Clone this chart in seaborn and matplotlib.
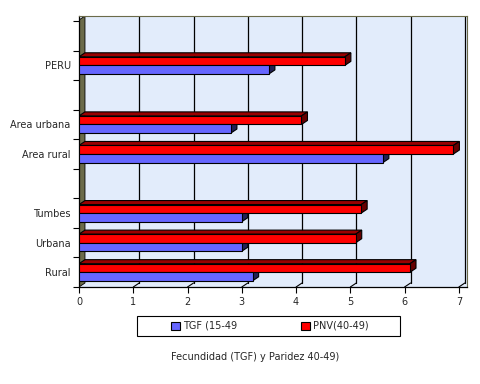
import numpy as np
import pandas as pd
import matplotlib
matplotlib.use("Agg")
import matplotlib.pyplot as plt
import seaborn as sns
from matplotlib.patches import Polygon, Patch, Rectangle

# ---- data ----
categories = ["", "PERU", " ", "Area urbana", "Area rural", "  ", "Tumbes", "Urbana", "Rural"]
groups = ["PERU", "Area urbana", "Area rural", "Tumbes", "Urbana", "Rural"]
tgf = [3.5, 2.8, 5.6, 3.0, 3.0, 3.2]
pnv = [4.9, 4.1, 6.9, 5.2, 5.1, 6.1]
series_tgf = "TGF (15-49"
series_pnv = "PNV(40-49)"
x_ticks = [0, 1, 2, 3, 4, 5, 6, 7]
xlabel = "Fecundidad (TGF) y Paridez 40-49)"

df = pd.DataFrame({
    "group": groups * 2,
    "series": [series_pnv] * len(groups) + [series_tgf] * len(groups),
    "value": pnv + tgf,
})

sns.set_style("white")
plt.rcParams["font.family"] = ["DejaVu Sans"]

W, H = 481, 384
fig = plt.figure(figsize=(W / 100, H / 100), dpi=100)
ax = fig.add_axes([79 / W, 1 - 287 / H, (467 - 79) / W, (287 - 16) / H])

blue = "#6666ff"
red = "#ff0000"
ax.set_facecolor("#e2ecfb")

sns.barplot(data=df, y="group", x="value", hue="series", order=categories,
            hue_order=[series_pnv, series_tgf], palette=[red, blue],
            width=0.58, orient="h", ax=ax, edgecolor="black", linewidth=0.8,
            legend=False, saturation=1, zorder=3)

ymax_top = -0.67
ybot = len(categories) - 0.5
ax.set_xlim(0, 7.15)
ax.set_ylim(ybot, ymax_top)

dx = 0.11
dy = 0.135

# 3D faces for bars
for p in list(ax.patches):
    w = p.get_width()
    if not np.isfinite(w) or w <= 0:
        continue
    x0 = p.get_x()
    y0 = p.get_y()
    h = p.get_height()
    x1 = x0 + w
    fc = p.get_facecolor()
    is_red = fc[0] > 0.9 and fc[2] < 0.2
    top_c = "#990000" if is_red else "#333399"
    side_c = "#660000" if is_red else "#222255"
    top = Polygon([(x0, y0), (x0 + dx, y0 - dy), (x1 + dx, y0 - dy), (x1, y0)],
                  closed=True, fc=top_c, ec="black", lw=0.8, zorder=2.6)
    side = Polygon([(x1, y0), (x1 + dx, y0 - dy), (x1 + dx, y0 + h - dy), (x1, y0 + h)],
                   closed=True, fc=side_c, ec="black", lw=0.8, zorder=2.6)
    ax.add_patch(top)
    ax.add_patch(side)

# left wall
wall = Polygon([(0, ybot), (dx, ybot - dy), (dx, ymax_top), (0, ymax_top + dy)],
               closed=True, fc="#6b6b4a", ec="black", lw=0.6, zorder=1.8)
ax.add_patch(wall)

# back gridlines and floor lines
for xv in x_ticks[1:]:
    ax.plot([xv + dx, xv + dx], [ymax_top, ybot - dy], color="black", lw=0.9, zorder=1.5)
    ax.plot([xv, xv + dx], [ybot, ybot - dy], color="black", lw=0.8, zorder=1.5)

# spines
for s in ["top", "right"]:
    ax.spines[s].set_color("#6b6b4a")
    ax.spines[s].set_linewidth(0.8)
for s in ["left", "bottom"]:
    ax.spines[s].set_color("black")
    ax.spines[s].set_linewidth(0.9)

# ticks
bounds = np.arange(-0.5, len(categories), 1.0)
ax.set_yticks(bounds)
ax.set_yticklabels([])
ax.set_yticks(np.arange(len(categories)), minor=True)
ax.set_yticklabels(categories, minor=True)
ax.tick_params(axis="y", which="major", length=4, width=0.8, direction="out", color="black", left=True)
ax.tick_params(axis="y", which="minor", length=0, pad=6, labelsize=7)
ax.set_xticks(x_ticks)
ax.set_xticklabels([str(v) for v in x_ticks])
ax.tick_params(axis="x", length=4, width=0.8, direction="out", color="black", bottom=True, labelsize=7, pad=3)
ax.set_xlabel("")
ax.set_ylabel("")
ax.grid(False)

# legend box (frame drawn separately)
fig.patches.append(Rectangle((137 / W, 1 - 336 / H), (400 - 137) / W, 20 / H,
                             transform=fig.transFigure, fill=False,
                             ec="black", lw=0.8, zorder=5))
handles = [Patch(fc=blue, ec="black", lw=0.8), Patch(fc=red, ec="black", lw=0.8)]
leg = fig.legend(handles=handles, labels=[series_tgf, series_pnv], ncol=2,
                 loc="center", bbox_to_anchor=(270 / W, 1 - 326 / H),
                 frameon=False, fontsize=7,
                 columnspacing=6.6, handlelength=0.9, handleheight=0.9,
                 handletextpad=0.3, borderpad=0.3, borderaxespad=0)

fig.text(255 / W, 1 - 357 / H, xlabel, ha="center", va="center", fontsize=7)

fig.savefig("out.png", dpi=100, facecolor="white")
